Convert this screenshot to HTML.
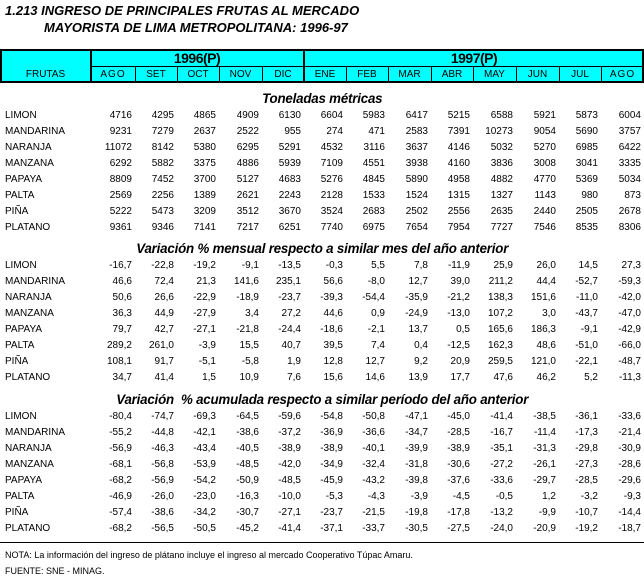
<!DOCTYPE html>
<html><head><meta charset="utf-8"><style>
body{margin:0;width:644px;height:580px;background:#fff;position:relative;overflow:hidden;font-family:"Liberation Sans",sans-serif;color:#000}
.t{position:absolute;font-weight:bold;font-style:italic;font-size:13px;white-space:nowrap}
.s{position:absolute;left:0;width:644px;text-align:center;font-weight:bold;font-style:italic;font-size:14px;letter-spacing:-0.2px;white-space:pre;transform:scaleX(0.95);transform-origin:327px 0}
.r{position:absolute;left:0;width:644px;height:16px;line-height:16px;font-size:10px;display:grid;grid-template-columns:91px 44px 42px 42px 43px 42px 42px 42px 43px 42px 43px 43px 42px 43px}
.r span{text-align:right;padding-right:3px}
.r span:first-child{text-align:left;padding-left:5px;padding-right:0}
.hd{position:absolute;left:0;top:49px;width:644px;height:34px;background:#00ffff;box-sizing:border-box;border:2px solid #000}
.v{position:absolute;background:#000;width:1px}
.hr{position:absolute;background:#000;height:1px}
.h{position:absolute;font-size:10px;text-align:center;line-height:16px}
.y{position:absolute;font-size:14px;font-weight:bold;text-align:center;line-height:17px;letter-spacing:-0.5px}
.n{position:absolute;left:5px;font-size:9px;white-space:nowrap}
</style></head><body>
<div class="t" style="left:5px;top:3px">1.213 INGRESO DE PRINCIPALES FRUTAS AL MERCADO</div>
<div class="t" style="left:44px;top:20px">MAYORISTA DE LIMA METROPOLITANA: 1996-97</div>

<div class="hd"></div>
<div class="v" style="left:90px;top:49px;height:34px;width:2px"></div>
<div class="v" style="left:303px;top:49px;height:34px;width:2px"></div>
<div class="hr" style="left:91px;top:66px;width:553px"></div>
<div class="v" style="left:135px;top:66px;height:17px"></div>
<div class="v" style="left:177px;top:66px;height:17px"></div>
<div class="v" style="left:219px;top:66px;height:17px"></div>
<div class="v" style="left:262px;top:66px;height:17px"></div>
<div class="v" style="left:346px;top:66px;height:17px"></div>
<div class="v" style="left:388px;top:66px;height:17px"></div>
<div class="v" style="left:431px;top:66px;height:17px"></div>
<div class="v" style="left:473px;top:66px;height:17px"></div>
<div class="v" style="left:516px;top:66px;height:17px"></div>
<div class="v" style="left:559px;top:66px;height:17px"></div>
<div class="v" style="left:601px;top:66px;height:17px"></div>
<div class="y" style="left:91px;top:50px;width:212px">1996(P)</div>
<div class="y" style="left:304px;top:50px;width:340px">1997(P)</div>
<div class="h" style="left:0;top:67px;width:91px">FRUTAS</div>
<div class="h" style="left:91px;top:67px;width:44px;letter-spacing:1px">AGO</div>
<div class="h" style="left:135px;top:67px;width:42px">SET</div>
<div class="h" style="left:177px;top:67px;width:42px">OCT</div>
<div class="h" style="left:219px;top:67px;width:43px">NOV</div>
<div class="h" style="left:262px;top:67px;width:42px">DIC</div>
<div class="h" style="left:304px;top:67px;width:42px">ENE</div>
<div class="h" style="left:346px;top:67px;width:42px">FEB</div>
<div class="h" style="left:388px;top:67px;width:43px">MAR</div>
<div class="h" style="left:431px;top:67px;width:42px">ABR</div>
<div class="h" style="left:473px;top:67px;width:43px">MAY</div>
<div class="h" style="left:516px;top:67px;width:43px">JUN</div>
<div class="h" style="left:559px;top:67px;width:42px">JUL</div>
<div class="h" style="left:601px;top:67px;width:43px;letter-spacing:1px">AGO</div>

<div class="s" style="top:90px">Toneladas métricas</div>
<div class="r" style="top:108px"><span>LIMON</span><span>4716</span><span>4295</span><span>4865</span><span>4909</span><span>6130</span><span>6604</span><span>5983</span><span>6417</span><span>5215</span><span>6588</span><span>5921</span><span>5873</span><span>6004</span></div>
<div class="r" style="top:124px"><span>MANDARINA</span><span>9231</span><span>7279</span><span>2637</span><span>2522</span><span>955</span><span>274</span><span>471</span><span>2583</span><span>7391</span><span>10273</span><span>9054</span><span>5690</span><span>3757</span></div>
<div class="r" style="top:140px"><span>NARANJA</span><span>11072</span><span>8142</span><span>5380</span><span>6295</span><span>5291</span><span>4532</span><span>3116</span><span>3637</span><span>4146</span><span>5032</span><span>5270</span><span>6985</span><span>6422</span></div>
<div class="r" style="top:156px"><span>MANZANA</span><span>6292</span><span>5882</span><span>3375</span><span>4886</span><span>5939</span><span>7109</span><span>4551</span><span>3938</span><span>4160</span><span>3836</span><span>3008</span><span>3041</span><span>3335</span></div>
<div class="r" style="top:172px"><span>PAPAYA</span><span>8809</span><span>7452</span><span>3700</span><span>5127</span><span>4683</span><span>5276</span><span>4845</span><span>5890</span><span>4958</span><span>4882</span><span>4770</span><span>5369</span><span>5034</span></div>
<div class="r" style="top:188px"><span>PALTA</span><span>2569</span><span>2256</span><span>1389</span><span>2621</span><span>2243</span><span>2128</span><span>1533</span><span>1524</span><span>1315</span><span>1327</span><span>1143</span><span>980</span><span>873</span></div>
<div class="r" style="top:204px"><span>PIÑA</span><span>5222</span><span>5473</span><span>3209</span><span>3512</span><span>3670</span><span>3524</span><span>2683</span><span>2502</span><span>2556</span><span>2635</span><span>2440</span><span>2505</span><span>2678</span></div>
<div class="r" style="top:220px"><span>PLATANO</span><span>9361</span><span>9346</span><span>7141</span><span>7217</span><span>6251</span><span>7740</span><span>6975</span><span>7654</span><span>7954</span><span>7727</span><span>7546</span><span>8535</span><span>8306</span></div>

<div class="s" style="top:240px">Variación % mensual respecto a similar mes del año anterior</div>
<div class="r" style="top:258px"><span>LIMON</span><span>-16,7</span><span>-22,8</span><span>-19,2</span><span>-9,1</span><span>-13,5</span><span>-0,3</span><span>5,5</span><span>7,8</span><span>-11,9</span><span>25,9</span><span>26,0</span><span>14,5</span><span>27,3</span></div>
<div class="r" style="top:274px"><span>MANDARINA</span><span>46,6</span><span>72,4</span><span>21,3</span><span>141,6</span><span>235,1</span><span>56,6</span><span>-8,0</span><span>12,7</span><span>39,0</span><span>211,2</span><span>44,4</span><span>-52,7</span><span>-59,3</span></div>
<div class="r" style="top:290px"><span>NARANJA</span><span>50,6</span><span>26,6</span><span>-22,9</span><span>-18,9</span><span>-23,7</span><span>-39,3</span><span>-54,4</span><span>-35,9</span><span>-21,2</span><span>138,3</span><span>151,6</span><span>-11,0</span><span>-42,0</span></div>
<div class="r" style="top:306px"><span>MANZANA</span><span>36,3</span><span>44,9</span><span>-27,9</span><span>3,4</span><span>27,2</span><span>44,6</span><span>0,9</span><span>-24,9</span><span>-13,0</span><span>107,2</span><span>3,0</span><span>-43,7</span><span>-47,0</span></div>
<div class="r" style="top:322px"><span>PAPAYA</span><span>79,7</span><span>42,7</span><span>-27,1</span><span>-21,8</span><span>-24,4</span><span>-18,6</span><span>-2,1</span><span>13,7</span><span>0,5</span><span>165,6</span><span>186,3</span><span>-9,1</span><span>-42,9</span></div>
<div class="r" style="top:338px"><span>PALTA</span><span>289,2</span><span>261,0</span><span>-3,9</span><span>15,5</span><span>40,7</span><span>39,5</span><span>7,4</span><span>0,4</span><span>-12,5</span><span>162,3</span><span>48,6</span><span>-51,0</span><span>-66,0</span></div>
<div class="r" style="top:354px"><span>PIÑA</span><span>108,1</span><span>91,7</span><span>-5,1</span><span>-5,8</span><span>1,9</span><span>12,8</span><span>12,7</span><span>9,2</span><span>20,9</span><span>259,5</span><span>121,0</span><span>-22,1</span><span>-48,7</span></div>
<div class="r" style="top:370px"><span>PLATANO</span><span>34,7</span><span>41,4</span><span>1,5</span><span>10,9</span><span>7,6</span><span>15,6</span><span>14,6</span><span>13,9</span><span>17,7</span><span>47,6</span><span>46,2</span><span>5,2</span><span>-11,3</span></div>

<div class="s" style="top:391px">Variación  % acumulada respecto a similar período del año anterior</div>
<div class="r" style="top:409px"><span>LIMON</span><span>-80,4</span><span>-74,7</span><span>-69,3</span><span>-64,5</span><span>-59,6</span><span>-54,8</span><span>-50,8</span><span>-47,1</span><span>-45,0</span><span>-41,4</span><span>-38,5</span><span>-36,1</span><span>-33,6</span></div>
<div class="r" style="top:425px"><span>MANDARINA</span><span>-55,2</span><span>-44,8</span><span>-42,1</span><span>-38,6</span><span>-37,2</span><span>-36,9</span><span>-36,6</span><span>-34,7</span><span>-28,5</span><span>-16,7</span><span>-11,4</span><span>-17,3</span><span>-21,4</span></div>
<div class="r" style="top:441px"><span>NARANJA</span><span>-56,9</span><span>-46,3</span><span>-43,4</span><span>-40,5</span><span>-38,9</span><span>-38,9</span><span>-40,1</span><span>-39,9</span><span>-38,9</span><span>-35,1</span><span>-31,3</span><span>-29,8</span><span>-30,9</span></div>
<div class="r" style="top:457px"><span>MANZANA</span><span>-68,1</span><span>-56,8</span><span>-53,9</span><span>-48,5</span><span>-42,0</span><span>-34,9</span><span>-32,4</span><span>-31,8</span><span>-30,6</span><span>-27,2</span><span>-26,1</span><span>-27,3</span><span>-28,6</span></div>
<div class="r" style="top:473px"><span>PAPAYA</span><span>-68,2</span><span>-56,9</span><span>-54,2</span><span>-50,9</span><span>-48,5</span><span>-45,9</span><span>-43,2</span><span>-39,8</span><span>-37,6</span><span>-33,6</span><span>-29,7</span><span>-28,5</span><span>-29,6</span></div>
<div class="r" style="top:489px"><span>PALTA</span><span>-46,9</span><span>-26,0</span><span>-23,0</span><span>-16,3</span><span>-10,0</span><span>-5,3</span><span>-4,3</span><span>-3,9</span><span>-4,5</span><span>-0,5</span><span>1,2</span><span>-3,2</span><span>-9,3</span></div>
<div class="r" style="top:505px"><span>PIÑA</span><span>-57,4</span><span>-38,6</span><span>-34,2</span><span>-30,7</span><span>-27,1</span><span>-23,7</span><span>-21,5</span><span>-19,8</span><span>-17,8</span><span>-13,2</span><span>-9,9</span><span>-10,7</span><span>-14,4</span></div>
<div class="r" style="top:521px"><span>PLATANO</span><span>-68,2</span><span>-56,5</span><span>-50,5</span><span>-45,2</span><span>-41,4</span><span>-37,1</span><span>-33,7</span><span>-30,5</span><span>-27,5</span><span>-24,0</span><span>-20,9</span><span>-19,2</span><span>-18,7</span></div>

<div class="hr" style="left:0;top:542px;width:644px"></div>
<div class="n" style="top:550px">NOTA: La información del ingreso de plátano  incluye el ingreso al mercado Cooperativo Túpac Amaru.</div>
<div class="n" style="top:566px">FUENTE: SNE - MINAG.</div>
</body></html>
